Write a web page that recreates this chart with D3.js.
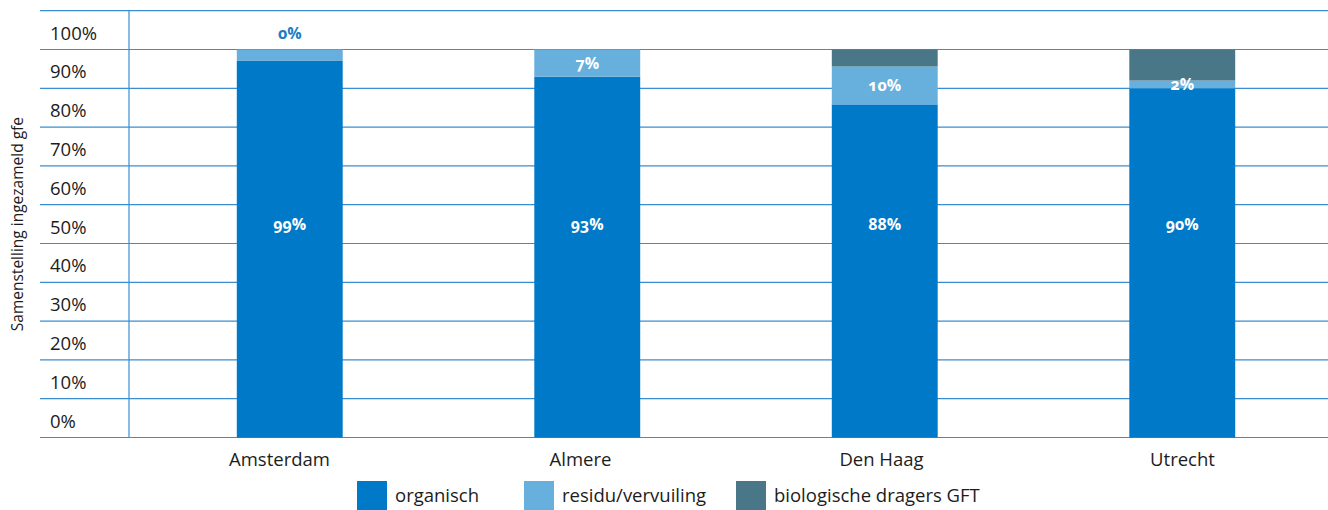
<!DOCTYPE html>
<html>
<head>
<meta charset="utf-8">
<script src="https://cdn.jsdelivr.net/npm/d3@7"></script>
<style>
  html, body { margin: 0; padding: 0; background: #fff; }
  svg { display: block; font-family: "Open Sans", "Noto Sans", sans-serif; }
</style>
</head>
<body>
<svg id="chart" width="1328" height="510"></svg>
<script>
// Composition of collected organic waste (gfe) per city
const categories = ["Amsterdam", "Almere", "Den Haag", "Utrecht"];
const organisch = [99, 93, 88, 90];
const residu = [3, 7, 10, 2];
const dragers = [0, 0, 4.5, 8];
const seriesNames = ["organisch", "residu/vervuiling", "biologische dragers GFT"];
const tickValues = [0, 10, 20, 30, 40, 50, 60, 70, 80, 90, 100];
const tickLabels = ["0%", "10%", "20%", "30%", "40%", "50%", "60%", "70%", "80%", "90%", "100%"];
// which segments carry a value label
const labelResidu = [false, true, true, true];
const labelDragers = [true, false, false, false];

const colors = ["#0079c8", "#67afdc", "#4a7787"];
const gridColor = "#3a8ed0";
const textColor = "#1c1c1c";

const svg = d3.select("#chart");

const rows = categories.map((c, i) => ({
  city: c, organisch: organisch[i], residu: residu[i], dragers: dragers[i]
}));
const keys = ["organisch", "residu", "dragers"];
const stacked = d3.stack().keys(keys).offset(d3.stackOffsetExpand)(rows);

const left = 40, axisX = 129, right = 1328;
const y = d3.scaleLinear().domain([0, 1.1]).range([437.5, 10.7]);
const x = d3.scaleBand().domain(categories).range([141, 1331])
  .paddingInner(0.644).paddingOuter(0.322);
// category names are centred in table columns to the right of the axis line
const xCol = d3.scaleBand().domain(categories).range([axisX, 1333]);

// grid: one line per tenth plus a top line above 100%
const gridVals = d3.range(0, 12).map(k => k / 10);
svg.append("g").selectAll("line").data(gridVals).join("line")
  .attr("x1", left).attr("x2", right)
  .attr("y1", d => y(d)).attr("y2", d => y(d))
  .attr("stroke", gridColor).attr("stroke-width", 1.2);

svg.append("line")
  .attr("x1", axisX).attr("x2", axisX)
  .attr("y1", y(1.1)).attr("y2", y(0))
  .attr("stroke", gridColor).attr("stroke-width", 1.2);

// tick labels sit inside the band above each gridline
svg.append("g").selectAll("text").data(tickValues).join("text")
  .attr("x", 50)
  .attr("y", (d) => y(d / 100 + 0.05) + 3)
  .attr("dy", "0.35em")
  .attr("font-size", 18.5)
  .attr("fill", textColor)
  .text((d, i) => tickLabels[i]);

// axis title
svg.append("text")
  .attr("transform", `translate(23, ${y(0.55)}) rotate(-90)`)
  .attr("text-anchor", "middle")
  .attr("font-size", 15.5)
  .attr("fill", textColor)
  .text("Samenstelling ingezameld gfe");

// stacked bars
const layers = svg.append("g").selectAll("g").data(stacked).join("g")
  .attr("fill", (d, i) => colors[i]);
layers.selectAll("rect").data(d => d).join("rect")
  .attr("x", d => x(d.data.city))
  .attr("width", x.bandwidth())
  .attr("y", d => y(d[1]))
  .attr("height", d => y(d[0]) - y(d[1]));

// category labels
svg.append("g").selectAll("text").data(categories).join("text")
  .attr("x", d => xCol(d) + xCol.bandwidth() / 2)
  .attr("y", 466)
  .attr("text-anchor", "middle")
  .attr("font-size", 18.5)
  .attr("fill", textColor)
  .text(d => d);

// value labels
const labelStyle = sel => sel
  .attr("text-anchor", "middle")
  .attr("dy", "0.35em")
  .attr("font-size", 16)
  .attr("font-weight", 700)
  .style("font-variant-numeric", "oldstyle-nums");

const lab = svg.append("g");
stacked[0].forEach((d, i) => {
  lab.append("text").call(labelStyle)
    .attr("x", x(categories[i]) + x.bandwidth() / 2)
    .attr("y", y(0.55))
    .attr("fill", "#fff")
    .text(organisch[i] + "%");
});
stacked[1].forEach((d, i) => {
  if (!labelResidu[i]) return;
  lab.append("text").call(labelStyle)
    .attr("x", x(categories[i]) + x.bandwidth() / 2)
    .attr("y", (y(d[0]) + y(d[1])) / 2)
    .attr("fill", "#fff")
    .text(residu[i] + "%");
});
stacked[2].forEach((d, i) => {
  if (!labelDragers[i]) return;
  lab.append("text").call(labelStyle)
    .attr("x", x(categories[i]) + x.bandwidth() / 2)
    .attr("y", y(d[1]) - 16)
    .attr("fill", "#1a7dc6")
    .text(dragers[i] + "%");
});

// legend
const legendX = [357, 524, 736];
const legend = svg.append("g").selectAll("g").data(seriesNames).join("g")
  .attr("transform", (d, i) => `translate(${legendX[i]}, 481)`);
legend.append("rect").attr("width", 30).attr("height", 30)
  .attr("fill", (d, i) => colors[i]);
legend.append("text").attr("x", 38).attr("y", 21)
  .attr("font-size", 18.5).attr("fill", textColor).text(d => d);
</script>
</body>
</html>
